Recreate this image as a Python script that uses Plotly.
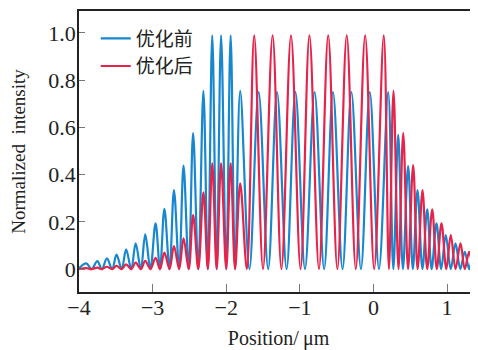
import plotly.graph_objects as go

# ---- data (vertices: peaks and troughs) ----
before_x = [-4.00, -3.90, -3.83, -3.75, -3.69, -3.62, -3.55, -3.49, -3.42, -3.36,
            -3.29, -3.23, -3.16, -3.10, -3.03, -2.96, -2.90, -2.84, -2.77, -2.71,
            -2.64, -2.58, -2.51, -2.45, -2.38, -2.31, -2.25, -2.19, -2.13, -2.07,
            -2.00, -1.94, -1.88, -1.81, -1.685, -1.56, -1.43, -1.31, -1.18, -1.06,
            -0.93, -0.80, -0.67, -0.55, -0.42, -0.30, -0.17, -0.05, 0.075, 0.20,
            0.27, 0.336, 0.40, 0.471, 0.535, 0.598, 0.665, 0.730, 0.79, 0.856,
            0.92, 0.982, 1.05, 1.114, 1.18, 1.240, 1.30, 1.345, 1.375, 1.40, 1.43]
before_y = [0.004, 0.024, 0.0, 0.034, 0.0, 0.045, 0.0, 0.061, 0.0, 0.084,
            0.0, 0.109, 0.0, 0.147, 0.0, 0.194, 0.0, 0.255, 0.0, 0.335,
            0.0, 0.438, 0.0, 0.576, 0.0, 0.755, 0.0, 0.99, 0.0, 0.99,
            0.0, 0.99, 0.0, 0.755, 0.0, 0.75, 0.0, 0.75, 0.0, 0.75,
            0.0, 0.75, 0.0, 0.75, 0.0, 0.75, 0.0, 0.75, 0.0, 0.75,
            0.0, 0.568, 0.0, 0.436, 0.0, 0.335, 0.0, 0.253, 0.0, 0.194,
            0.0, 0.144, 0.0, 0.109, 0.0, 0.073, 0.0, 0.048, 0.035, 0.06, 0.06]

after_x = [-4.00, -3.90, -3.83, -3.75, -3.69, -3.62, -3.55, -3.49, -3.42, -3.36,
           -3.29, -3.23, -3.16, -3.10, -3.03, -2.96, -2.90, -2.84, -2.77, -2.71,
           -2.64, -2.58, -2.51, -2.45, -2.38, -2.31, -2.25, -2.19, -2.13, -2.07,
           -2.00, -1.94, -1.88, -1.81, -1.72, -1.62, -1.50, -1.37, -1.25, -1.12,
           -0.99, -0.87, -0.74, -0.615, -0.49, -0.363, -0.24, -0.113, 0.01, 0.140,
           0.21, 0.272, 0.34, 0.404, 0.47, 0.539, 0.60, 0.666, 0.73, 0.798,
           0.86, 0.924, 0.99, 1.050, 1.115, 1.182, 1.24, 1.300, 1.36, 1.39, 1.43]
after_y = [0.0, 0.004, 0.0, 0.006, 0.0, 0.010, 0.0, 0.014, 0.0, 0.020,
           0.0, 0.027, 0.0, 0.035, 0.0, 0.048, 0.0, 0.070, 0.0, 0.097,
           0.0, 0.130, 0.0, 0.229, 0.0, 0.325, 0.0, 0.448, 0.0, 0.448,
           0.0, 0.448, 0.0, 0.363, 0.0, 0.99, 0.0, 0.99, 0.0, 0.99,
           0.0, 0.99, 0.0, 0.99, 0.0, 0.99, 0.0, 0.99, 0.0, 0.99,
           0.0, 0.755, 0.0, 0.576, 0.0, 0.44, 0.0, 0.335, 0.0, 0.253,
           0.0, 0.194, 0.0, 0.144, 0.0, 0.109, 0.0, 0.073, 0.0, 0.03, 0.03]

series_names = ["优化前", "优化后"]
x_ticks = [-4, -3, -2, -1, 0, 1]
y_ticks = [0, 0.2, 0.4, 0.6, 0.8, 1.0]
y_tick_labels = ["0", "0.2", "0.4", "0.6", "0.8", "1.0"]
x_tick_labels = ["\u22124", "\u22123", "\u22122", "\u22121", "0", "1"]

BLUE = "#1787d0"
RED = "#e6234a"
SERIF = "Liberation Serif, Times New Roman, serif"
CJK = "Noto Sans CJK SC, sans-serif"

fig = go.Figure()
fig.add_trace(go.Scatter(x=before_x, y=before_y, mode="lines", name=series_names[0],
                         line=dict(color=BLUE, width=2.2, shape="spline", smoothing=1)))
fig.add_trace(go.Scatter(x=after_x, y=after_y, mode="lines", name=series_names[1],
                         line=dict(color=RED, width=2.2, shape="spline", smoothing=1)))

# page body has an 8px default margin, so the figure is 8px smaller and offset
fig.update_layout(
    width=470, height=342,
    margin=dict(l=71, r=0, t=3, b=58, autoexpand=False),
    paper_bgcolor="white", plot_bgcolor="white",
    showlegend=True,
    legend=dict(x=0.042, y=0.97, xanchor="left", yanchor="top",
                bgcolor="rgba(0,0,0,0)", font=dict(family=CJK, size=19, color="#222"),
                itemwidth=30, tracegroupgap=0),
)
fig.update_xaxes(range=[-4, 1.42], tickvals=x_ticks, ticktext=x_tick_labels,
                 ticks="inside", ticklen=8, tickcolor="#777", tickwidth=1,
                 showline=True, linecolor="#222", linewidth=1.5, mirror=True,
                 showgrid=False, zeroline=False, automargin=False,
                 ticklabelstandoff=-5,
                 tickfont=dict(family=SERIF, size=22, color="#222"),
                 title=dict(text="Position/\u2009\u03bcm", font=dict(family=SERIF, size=20, color="#222"),
                            standoff=12))
fig.update_yaxes(range=[-0.097, 1.093], tickvals=y_ticks, ticktext=y_tick_labels,
                 ticks="inside", ticklen=6, tickcolor="#777", tickwidth=1,
                 showline=True, linecolor="#222", linewidth=1.5, mirror=False,
                 showgrid=False, zeroline=False, automargin=False,
                 ticklabelstandoff=-3,
                 tickfont=dict(family=SERIF, size=22, color="#222"),
                 title=dict(text="Normalized\u2002intensity", font=dict(family=SERIF, size=19, color="#222"),
                            standoff=20))

fig.write_html("out.html")
